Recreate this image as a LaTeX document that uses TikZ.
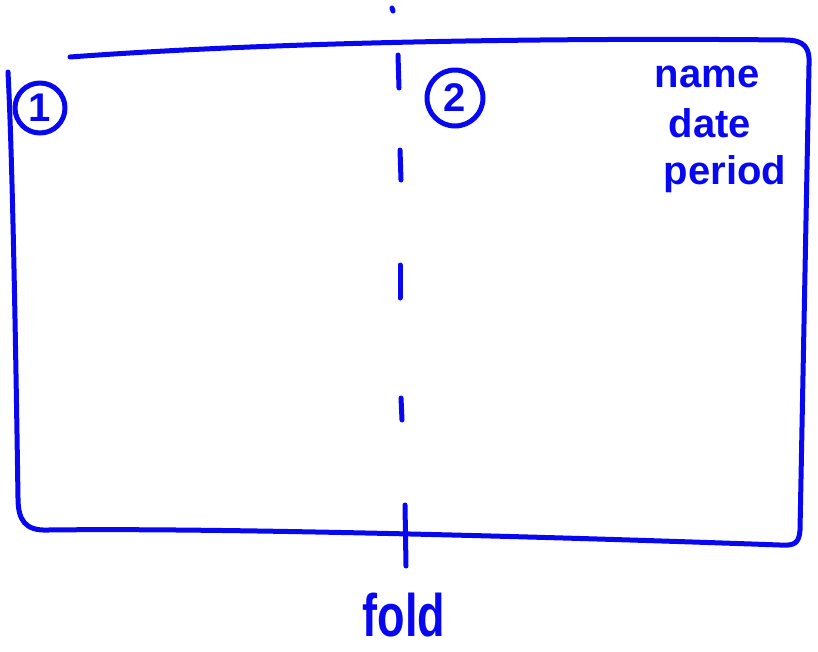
\documentclass[tikz,border=0pt]{standalone}
\usepackage{fontspec}
\setmainfont{Liberation Sans}
\definecolor{inkblue}{RGB}{8,8,240}
\tikzset{
  ink/.style={draw=inkblue, line width=5pt, line cap=round, line join=round},
  hand/.style={text=inkblue, inner sep=0pt, anchor=base, font=\bfseries\fontsize{40}{40}\selectfont},
  numcirc/.style={ink, circle, inner sep=0pt, text=inkblue}
}
\begin{document}
\begin{tikzpicture}[x=1pt, y=-1pt]
  \useasboundingbox (0,0) rectangle (818,651);

  % --- sheet outline ---
  \draw[ink] (70,57) .. controls (300,40) and (600,38) .. (785,40)
    .. controls (805,40) and (810,48) .. (809,65) -- (800,530)
    .. controls (799,543) and (795,546) .. (780,545)
    .. controls (500,535) and (200,528) .. (48,530)
    .. controls (25,531) and (18,520) .. (18,498)
    .. controls (15,300) and (12,150) .. (8,72);

  % --- fold line ---
  \coordinate (ftop) at (392,8);
  \coordinate (fbot) at (406,566);
  \draw[ink] (ftop) -- ++(1,3);
  \draw[ink] (398,55) -- (399,88);
  \draw[ink] (400,150) -- (401,180);
  \draw[ink] (400,265) -- (400,298);
  \draw[ink] (401,398) -- (402,420);
  \draw[ink] (405,505) -- (fbot);
  \node[hand, font=\bfseries\fontsize{60}{60}\selectfont, xscale=0.75] (fold) at (404,636) {fold};

  % --- page numbers ---
  \node[numcirc, minimum size=50pt, font=\bfseries\fontsize{40}{40}\selectfont] (one) at (40,108) {1};
  \node[numcirc, minimum size=56pt, font=\bfseries\fontsize{40}{40}\selectfont] (two) at (455,98) {2};

  % --- heading ---
  \node[hand] (name) at (707,87) {name};
  \node[hand] (date) at (710,137) {date};
  \node[hand] (period) at (725,184) {period};
\end{tikzpicture}
\end{document}
